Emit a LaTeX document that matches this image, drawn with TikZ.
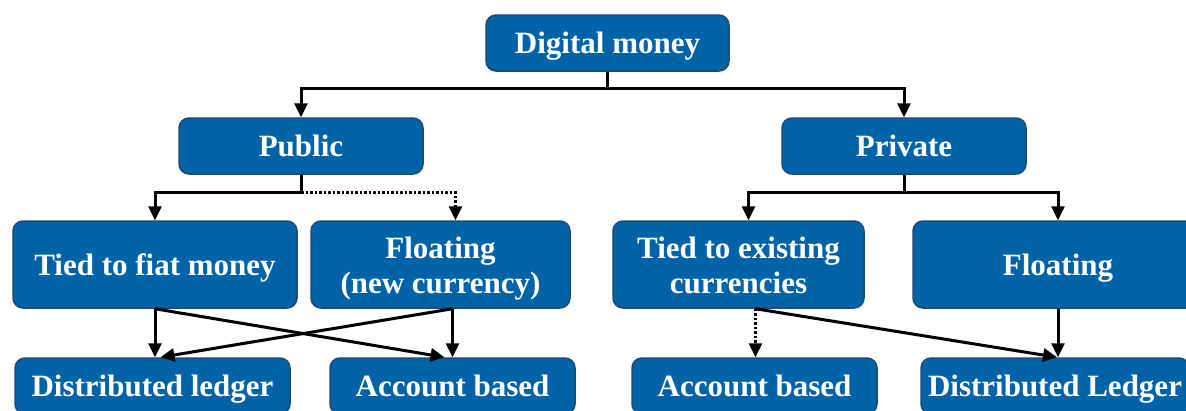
\documentclass[tikz,border=0pt]{standalone}
\usepackage{fontspec}
\setmainfont{Liberation Serif}
\usetikzlibrary{arrows.meta,calc}
\definecolor{boxblue}{RGB}{0,99,168}
\definecolor{boxedge}{RGB}{25,75,125}
\begin{document}
\begin{tikzpicture}[x=1pt,y=-1pt,
  basebox/.style={draw=boxedge, fill=boxblue, rounded corners=10pt, line width=1.5pt,
    text=white, font=\bfseries\fontsize{31}{35}\selectfont, align=center, inner sep=0pt},
  box/.style={basebox, minimum height=56pt, text height=28pt, text depth=7pt},
  tallbox/.style={basebox, minimum height=87pt, text height=65pt, text depth=7pt},
  conn/.style={line width=3pt, -{Triangle[length=14pt,width=13pt]}},
  dotconn/.style={conn, dash pattern=on 2.5pt off 2pt}]
\useasboundingbox (0,0) rectangle (1186,410);
\clip (0,0) rectangle (1186,410);
\fill[white] (0,0) rectangle (1186,410);

\node[box, minimum width=243pt] (dm) at (607.5,43) {Digital money};
\node[box, minimum width=244pt] (pub) at (301,146) {Public};
\node[box, minimum width=244pt] (priv) at (904,146) {Private};
\node[box, minimum width=284pt, minimum height=87pt] (tfm) at (155,264.5) {Tied to fiat money};
\node[tallbox, minimum width=259pt] (flt) at (440.5,264.5) {Floating\\(new currency)};
\node[tallbox, minimum width=251pt] (tec) at (738.5,264.5) {Tied to existing\\currencies};
\node[box, minimum width=290pt, minimum height=87pt] (fl) at (1058,264.5) {Floating};
\node[box, minimum width=275pt] (dl) at (152.5,386) {Distributed ledger};
\node[box, minimum width=245pt] (ab) at (452.5,386) {Account based};
\node[box, minimum width=245pt] (ab2) at (754.5,386) {Account based};
\node[box, minimum width=268pt] (dL) at (1055,386) {Distributed Ledger};

\draw[conn] (dm.south) -- ++(0,17) -| (pub.north);
\draw[conn] (dm.south) -- ++(0,17) -| (priv.north);

\draw[conn] (pub.south) -- ++(0,18) -| (tfm.north);
\draw[dotconn] (pub.south) ++(0,18) -| ([xshift=15pt]flt.north);
\draw[line width=3pt] (pub.south) -- ++(0,18);

\draw[conn] (priv.south) -- ++(0,18) -| ([xshift=10pt]tec.north);
\draw[conn] (priv.south) -- ++(0,18) -| (fl.north);

\draw[conn] (tfm.south) -- (tfm.south |- dl.north);
\draw[conn] (tfm.south) -- ([xshift=-8pt]ab.north);
\coordinate (fs) at ([xshift=12pt]flt.south);
\draw[conn] (fs) -- (fs |- ab.north);
\draw[conn] (fs) -- ([xshift=8pt]dl.north);

\coordinate (ts) at ([xshift=17pt]tec.south);
\draw[dotconn] (ts) -- (ts |- ab2.north);
\draw[conn] (ts) -- ([xshift=2pt]dL.north);
\draw[conn] (fl.south) -- (fl.south |- dL.north);
\end{tikzpicture}
\end{document}
